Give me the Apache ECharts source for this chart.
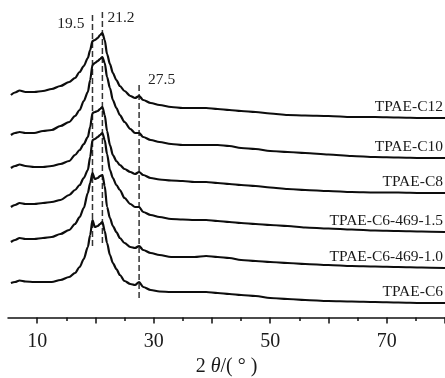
<!DOCTYPE html>
<html>
<head>
<meta charset="utf-8">
<script src="https://cdn.jsdelivr.net/npm/echarts@6/dist/echarts.min.js"></script>
<style>
  html, body { margin: 0; padding: 0; background: #fff; }
  #chart { width: 445px; height: 378px; }
</style>
</head>
<body>
<div id="chart"></div>
<script>
// 2θ sampling positions (degrees)
const twoTheta = [5.5, 6.2, 7.0, 8.0, 9.5, 11, 12.5, 14, 15.5, 16.5, 17.3, 18, 18.7, 19.1, 19.5, 19.9, 20.4, 20.8, 21.2, 21.6, 22.0, 22.5, 23.0, 23.6, 24.2, 25.0, 26.0, 26.8, 27.5, 28.2, 29.5, 31, 33, 35, 37, 39, 41, 43, 45, 47.5, 50, 53, 56, 60, 64, 68, 72, 76, 80];

// Diffracted intensity (a.u.) of each sample, before stacking
const intC6 = [20, 21, 22.5, 21.5, 21, 21, 21, 23, 26, 30, 36, 44, 56, 68, 83, 76, 77, 79, 81, 72, 60, 48, 40, 34, 28, 22, 19, 18, 21, 16, 13, 11.5, 11, 11, 11, 11, 10, 9, 8, 7, 5, 4, 3, 2, 1.5, 1, 0.5, 0, 0];
const intC6_469_10 = [26, 28, 30, 29, 29, 30, 31, 34, 38, 44, 51, 60, 75, 85, 95, 89, 90, 92, 93, 82, 61, 50, 42, 36, 30, 25, 21, 20, 22, 18, 15, 13, 11, 11, 11, 12, 11, 10, 8, 7, 6, 5, 4, 3, 2, 1.5, 1, 0.5, 0];
const intC6_469_15 = [25, 27, 29, 28, 28, 29, 30, 32, 37, 42, 47, 54, 62, 75, 92, 93, 95, 97, 99, 92, 78, 62, 54, 47, 42, 34, 28, 25, 25, 20, 17, 15, 13, 12.5, 12, 12, 11, 10, 9, 8, 7, 6, 4.5, 3.5, 2.5, 1.5, 1, 0.5, 0];
const intC8 = [25, 27, 28.5, 27, 26, 26, 27, 29, 32, 38, 43, 49, 56, 66, 80, 81, 82, 84, 86, 78, 62, 48, 38, 32, 28, 24, 21, 19, 21, 18, 15, 13.5, 12.5, 12, 11, 11, 10, 9, 8, 7, 5.5, 4, 3, 2, 1, 0.5, 0.5, 0, 0];
const intC10 = [23, 25, 26, 25, 25, 27, 28, 32, 36, 42, 48, 57, 66, 78, 93, 95, 97, 99, 101, 95, 81, 70, 58, 50, 43, 36, 29, 25, 25, 21, 18, 16, 14, 13, 13, 13, 13, 12, 10, 9, 7, 6, 5, 3.5, 2, 1, 0.5, 0, 0];
const intC12 = [23, 25.5, 27.5, 26, 26, 27, 29, 32, 36, 40, 46, 52, 60, 68, 77, 78, 80, 83, 85, 78, 64, 54, 45, 38, 32, 27, 22, 20, 22, 18, 15, 13, 11, 10, 10, 10, 9, 8, 7, 6, 4.5, 3, 2.5, 2, 1, 1, 0.5, 0, 0];

// Samples from bottom to top, with the vertical shift used to stack them
const sampleNames = ['TPAE-C6', 'TPAE-C6-469-1.0', 'TPAE-C6-469-1.5', 'TPAE-C8', 'TPAE-C10', 'TPAE-C12'];
const sampleIntensity = [intC6, intC6_469_10, intC6_469_15, intC8, intC10, intC12];
const stackShift = [14.5, 49.5, 85.5, 124.5, 159.5, 199.5];

// Reference reflections (2θ) and the stacked-intensity range their guide lines span
const refPeaks = [19.5, 21.2, 27.5];
const refSpanLow = [71.5, 74.5, 19.5];
const refSpanHigh = [304.5, 307.5, 232.5];

// Axis ticks
const majorTicks = [10, 20, 30, 40, 50, 60, 70, 80];
const minorTicks = [15, 25, 35, 45, 55, 65, 75];
const tickLabels = [10, 30, 50, 70];

const serif = "'Liberation Serif', 'Times New Roman', 'DejaVu Serif', serif";
const chart = echarts.init(document.getElementById('chart'), null, { renderer: 'canvas' });

const curveSeries = sampleNames.map((name, k) => {
  const pts = twoTheta.map((x, i) => [x, sampleIntensity[k][i] + stackShift[k]]);
  const last = pts.length - 1;
  const data = pts.map((p, i) => i === last ? {
    value: p,
    label: {
      show: true,
      formatter: name,
      position: [-2, -11],
      align: 'right',
      verticalAlign: 'middle',
      fontFamily: serif,
      fontSize: 15.5,
      color: '#1a1a1a'
    }
  } : p);
  return {
    name: name,
    type: 'line',
    data: data,
    showSymbol: true,
    symbol: 'circle',
    symbolSize: 0,
    smooth: 0.3,
    smoothMonotone: 'x',
    lineStyle: { color: '#0d0d0d', width: 2.2 },
    itemStyle: { color: '#0d0d0d' },
    label: { show: false },
    silent: true,
    animation: false,
    z: 3
  };
});

// Placement of each guide-line caption relative to the top of its line
const refLabelStyle = [
  { position: [-8, 11], align: 'right' },
  { position: [5, 8], align: 'left' },
  { position: [9, -5], align: 'left' }
];

const refSeries = refPeaks.map((x, k) => ({
  type: 'line',
  data: [
    [x, refSpanLow[k]],
    {
      value: [x, refSpanHigh[k]],
      label: {
        show: true,
        formatter: String(x),
        position: refLabelStyle[k].position,
        align: refLabelStyle[k].align,
        verticalAlign: 'middle',
        fontFamily: serif,
        fontSize: 15.5,
        color: '#222'
      }
    }
  ],
  showSymbol: true,
  symbolSize: 0,
  lineStyle: { color: '#333', width: 1.5, type: [6, 3] },
  itemStyle: { color: '#333' },
  silent: true,
  animation: false,
  z: 2
}));

chart.setOption({
  animation: false,
  backgroundColor: '#fff',
  grid: { left: 8, right: 0, top: 0, bottom: 60.5, containLabel: false, outerBoundsMode: 'none' },
  xAxis: [
    {
      type: 'value',
      min: 5,
      max: 80,
      interval: 5,
      position: 'bottom',
      axisLine: { show: true, onZero: false, lineStyle: { color: '#111', width: 1.5 } },
      axisTick: { show: true, customValues: majorTicks, length: 6, lineStyle: { color: '#111', width: 1.5 } },
      axisLabel: {
        show: true,
        customValues: tickLabels,
        margin: 14,
        fontFamily: serif,
        fontSize: 20,
        color: '#1a1a1a'
      },
      splitLine: { show: false },
      name: '{n|2 }{t|θ}{n|/( ° )}',
      nameLocation: 'middle',
      nameGap: 36,
      nameTextStyle: {
        rich: {
          n: { fontFamily: serif, fontSize: 20, color: '#1a1a1a' },
          t: { fontFamily: serif, fontSize: 20, fontStyle: 'italic', color: '#1a1a1a' }
        }
      }
    },
    {
      type: 'value',
      min: 5,
      max: 80,
      interval: 5,
      position: 'bottom',
      axisLine: { show: false, onZero: false },
      axisTick: { show: true, customValues: minorTicks, length: 3.5, lineStyle: { color: '#111', width: 1.5 } },
      axisLabel: { show: false },
      splitLine: { show: false }
    }
  ],
  yAxis: {
    type: 'value',
    min: 0,
    max: 317.5,
    show: false,
    splitLine: { show: false }
  },
  series: curveSeries.concat(refSeries)
});
</script>
</body>
</html>
